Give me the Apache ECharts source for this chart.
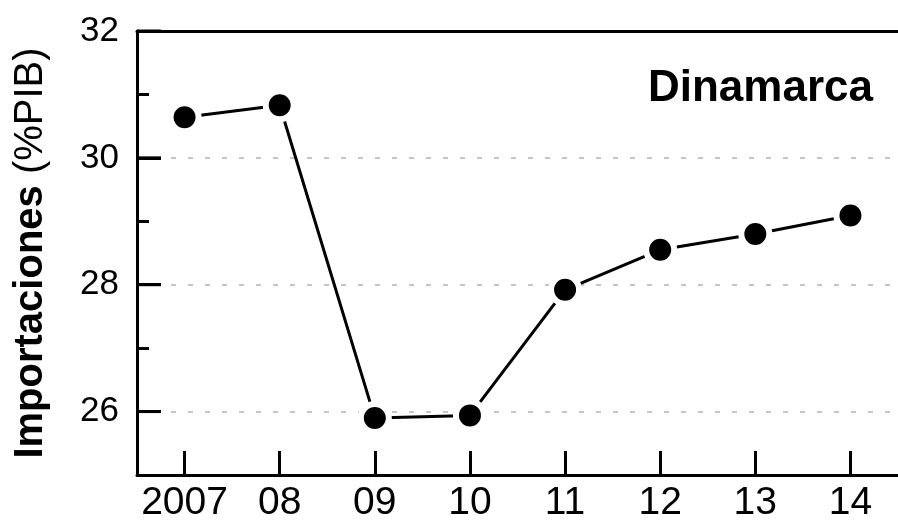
<!DOCTYPE html>
<html>
<head>
<meta charset="utf-8">
<script src="https://cdn.jsdelivr.net/npm/echarts@6/dist/echarts.min.js"></script>
<style>
  html, body { margin: 0; padding: 0; background: #fff; }
  #chart { width: 898px; height: 532px; }
</style>
</head>
<body>
<div id="chart"></div>
<script>
// Years on the x axis
const years = ["2007", "08", "09", "10", "11", "12", "13", "14"];
// Imports as % of GDP, Denmark
const imports = [30.64, 30.83, 25.9, 25.94, 27.92, 28.55, 28.8, 29.09];
// Labelled ticks and the short ones between them
const majorTicks = [26, 28, 30, 32];
const minorTicks = [27, 29, 31];

const chart = echarts.init(document.getElementById("chart"));

const font = "Liberation Sans, Arial, sans-serif";
const black = { color: "#000", width: 3 };

chart.setOption({
  animation: false,
  grid: {
    left: 137,
    top: 31,
    width: 766,
    height: 444
  },
  xAxis: [
    {
      type: "category",
      data: years,
      boundaryGap: true,
      axisLine: { lineStyle: black },
      axisTick: { show: false },
      axisLabel: {
        color: "#000",
        fontFamily: font,
        fontSize: 39,
        margin: 9,
        interval: 0
      },
      splitLine: { show: false }
    },
    {
      // top border only
      type: "category",
      data: years,
      position: "top",
      z: 5,
      axisLine: { lineStyle: black },
      axisTick: { show: false },
      axisLabel: { show: false },
      splitLine: { show: false }
    },
    {
      // tick marks on the bottom axis
      type: "category",
      data: years,
      position: "bottom",
      axisLine: { show: false },
      axisTick: {
        show: true,
        alignWithLabel: true,
        inside: true,
        interval: 0,
        length: 24,
        lineStyle: black
      },
      axisLabel: { show: false },
      splitLine: { show: false }
    }
  ],
  yAxis: [
    {
      type: "value",
      min: 25,
      max: 32,
      name: "{b|Importaciones}{n| (%PIB)}",
      nameLocation: "middle",
      nameGap: 86,
      nameRotate: 90,
      nameTextStyle: {
        rich: {
          b: { fontFamily: font, fontSize: 40, fontWeight: "bold", color: "#000" },
          n: { fontFamily: font, fontSize: 40, color: "#000" }
        }
      },
      axisLine: { show: true, lineStyle: black },
      axisTick: {
        show: true,
        inside: true,
        length: 24,
        customValues: majorTicks,
        lineStyle: black
      },
      axisLabel: {
        color: "#000",
        fontFamily: font,
        fontSize: 35,
        margin: 18,
        customValues: majorTicks
      },
      splitLine: {
        show: true,
        lineStyle: { color: "#c4c4c4", width: 2, type: [5, 12] }
      }
    },
    {
      // short ticks between the labelled ones
      type: "value",
      min: 25,
      max: 32,
      position: "left",
      axisLine: { show: false },
      axisTick: {
        show: true,
        inside: true,
        length: 12,
        customValues: minorTicks,
        lineStyle: black
      },
      axisLabel: { show: false },
      splitLine: { show: false }
    }
  ],
  graphic: [
    {
      type: "text",
      right: 25,
      top: 67,
      style: {
        text: "Dinamarca",
        fontFamily: font,
        fontSize: 44,
        fontWeight: "bold",
        fill: "#000"
      }
    }
  ],
  series: [
    {
      // long ticks at the labelled values, placed by the y scale
      type: "custom",
      z: 10,
      silent: true,
      data: majorTicks.map(function (v) { return [0, v]; }),
      renderItem: function (params, api) {
        const y = api.coord([0, api.value(1)])[1];
        const x = params.coordSys.x;
        return {
          type: "line",
          shape: { x1: x, y1: y, x2: x + 24, y2: y },
          style: { stroke: "#000", lineWidth: 3 }
        };
      }
    },
    {
      type: "line",
      data: imports,
      symbol: "circle",
      symbolSize: 28,
      z: 3,
      lineStyle: black,
      itemStyle: { color: "#000", borderColor: "#fff", borderWidth: 6 }
    }
  ]
});
</script>
</body>
</html>
